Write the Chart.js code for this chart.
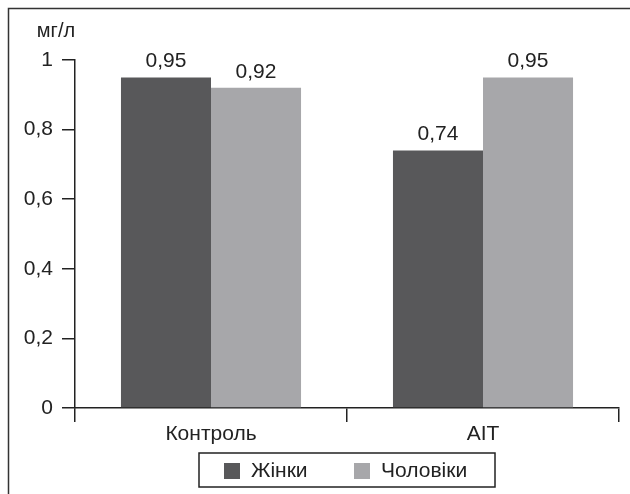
<!DOCTYPE html>
<html>
<head>
<meta charset="utf-8">
<script src="https://cdn.jsdelivr.net/npm/chart.js@4/dist/chart.umd.min.js"></script>
<style>
  html, body { margin: 0; padding: 0; background: #fff; }
  #wrap { position: relative; width: 630px; height: 494px; }
</style>
</head>
<body>
<div id="wrap"><canvas id="chart" width="630" height="494"></canvas></div>
<script>
"use strict";

// дані
var categories = ['Контроль', 'AIT'];
var zhinky = [0.95, 0.74];
var cholovika = [0.92, 0.95];
var seriesNames = ['Жінки', 'Чоловіки'];
var yTicks = [0, 0.2, 0.4, 0.6, 0.8, 1];
var unitLabel = 'мг/л';

var FONT = 'Liberation Sans, Arial, sans-serif';
var DARK = '#58585a';
var LIGHT = '#a7a7aa';

function fmt(v) {
  return String(v).replace('.', ',');
}

// рамка, підписи значень, одиниці, легенда
var extras = {
  id: 'extras',
  afterDatasetsDraw: function(chart) {
    var ctx = chart.ctx;
    ctx.save();
    ctx.fillStyle = '#222';
    ctx.font = '21px ' + FONT;
    ctx.textAlign = 'center';
    ctx.textBaseline = 'alphabetic';
    chart.data.datasets.forEach(function(ds, i) {
      chart.getDatasetMeta(i).data.forEach(function(bar, j) {
        ctx.fillText(fmt(ds.data[j]), bar.x, bar.y - 10);
      });
    });
    ctx.restore();
  },
  afterDraw: function(chart) {
    var ctx = chart.ctx;
    var area = chart.chartArea;
    ctx.save();
    // рамка зверху і зліва
    ctx.strokeStyle = '#333';
    ctx.lineWidth = 1.5;
    ctx.beginPath();
    ctx.moveTo(8.5, 494);
    ctx.lineTo(8.5, 8.5);
    ctx.lineTo(630, 8.5);
    ctx.stroke();

    // одиниці
    ctx.fillStyle = '#222';
    ctx.font = '20px ' + FONT;
    ctx.textAlign = 'center';
    ctx.textBaseline = 'middle';
    ctx.fillText(unitLabel, 56, 31);

    // легенда
    var cx = (area.left + area.right) / 2;
    var bx = cx - 148, by = 453, bw = 296, bh = 34;
    ctx.strokeStyle = '#222';
    ctx.lineWidth = 1.5;
    ctx.strokeRect(bx, by, bw, bh);
    ctx.font = '21px ' + FONT;
    ctx.textAlign = 'left';
    var itemX = [bx + 25, bx + 155];
    chart.data.datasets.forEach(function(ds, i) {
      ctx.fillStyle = ds.backgroundColor;
      ctx.fillRect(itemX[i], by + 10, 16, 16);
      ctx.fillStyle = '#222';
      ctx.fillText(ds.label, itemX[i] + 27, by + 18);
    });
    ctx.restore();
  }
};

new Chart(document.getElementById('chart'), {
  type: 'bar',
  data: {
    labels: categories,
    datasets: [
      { label: seriesNames[0], data: zhinky, backgroundColor: DARK },
      { label: seriesNames[1], data: cholovika, backgroundColor: LIGHT }
    ]
  },
  options: {
    responsive: false,
    animation: false,
    events: [],
    layout: { padding: { left: 0, right: 11, top: 60, bottom: 36 } },
    datasets: { bar: { categoryPercentage: 0.662, barPercentage: 1 } },
    plugins: { legend: { display: false }, tooltip: { enabled: false } },
    scales: {
      x: {
        afterFit: function(s) { s.height = 50; },
        grid: { drawOnChartArea: false, drawTicks: true, tickLength: 14, color: '#222', lineWidth: 1.5 },
        border: { display: true, color: '#222', width: 1.5 },
        ticks: { color: '#222', font: { family: FONT, size: 21 }, padding: 0 }
      },
      y: {
        min: 0, max: 1,
        afterFit: function(s) { s.width = 75; },
        afterBuildTicks: function(s) { s.ticks = yTicks.map(function(v) { return { value: v }; }); },
        grid: { drawOnChartArea: false, drawTicks: true, tickLength: 13, color: '#222', lineWidth: 1.5 },
        border: { display: true, color: '#222', width: 1.5 },
        ticks: {
          color: '#222', padding: 9,
          font: { family: FONT, size: 21 },
          callback: function(v) { return fmt(v); }
        }
      }
    }
  },
  plugins: [extras]
});
</script>
</body>
</html>
